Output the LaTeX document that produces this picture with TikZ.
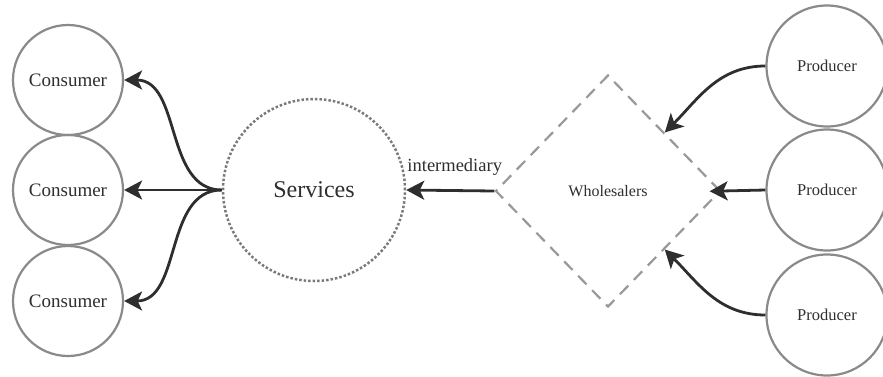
\documentclass[tikz,border=0pt]{standalone}
\usepackage{fontspec}
\setmainfont{Liberation Serif}
\usetikzlibrary{shapes.geometric,arrows.meta}
\definecolor{ink}{HTML}{2E2E2E}
\definecolor{rim}{HTML}{8A8A8A}
\definecolor{dotrim}{HTML}{7A7A7A}
\definecolor{dashrim}{HTML}{999999}
\begin{document}
\begin{tikzpicture}[x=1pt,y=1pt,
  party/.style={circle,draw=rim,line width=2.2pt,minimum size=110pt,inner sep=0pt,
    text=ink,font=\fontsize{19}{22}\selectfont},
  maker/.style={party,minimum size=121pt,font=\fontsize{16.5}{20}\selectfont},
  hub/.style={circle,draw=dotrim,dotted,line width=2.5pt,minimum size=182pt,inner sep=0pt,
    text=ink,font=\fontsize{24}{28}\selectfont},
  trade/.style={diamond,draw=dashrim,dash pattern=on 12pt off 8pt,line width=2.2pt,
    minimum width=225pt,minimum height=232pt,inner sep=0pt,
    text=ink,font=\fontsize{16}{19}\selectfont},
  flow/.style={draw=ink,line width=2.8pt,-{Stealth[length=18pt,width=19pt,inset=4.5pt]}},
  tag/.style={text=ink,font=\fontsize{18.5}{22}\selectfont},
]
\useasboundingbox (0,0) rectangle (883,-376);

% consumers on the left
\node[party] (c1) at (68,-80) {Consumer};
\node[party] (c2) at (68,-190) {Consumer};
\node[party] (c3) at (68,-301) {Consumer};

% services hub
\node[hub] (s) at (314,-190) {Services};

% wholesalers
\node[trade] (w) at (608,-191) {Wholesalers};

% producers on the right
\node[maker] (p1) at (827,-66) {Producer};
\node[maker] (p2) at (827,-190) {Producer};
\node[maker] (p3) at (827,-315) {Producer};

% services to consumers
\draw[flow] (s.west) to[out=180,in=0] (c1.east);
\draw[flow] (s.west) -- (c2.east);
\draw[flow] (s.west) to[out=180,in=0] (c3.east);

% wholesalers to services
\draw[flow] (w.west) -- node[tag,pos=0.45,anchor=base,yshift=19pt] {intermediary} (s.east);

% producers to wholesalers
\draw[flow] (p1.west) to[out=180,in=45] (w.north east);
\draw[flow,shorten >=-12pt] (p2.west) -- (w.east);
\draw[flow] (p3.west) to[out=180,in=-45] (w.south east);
\end{tikzpicture}
\end{document}
